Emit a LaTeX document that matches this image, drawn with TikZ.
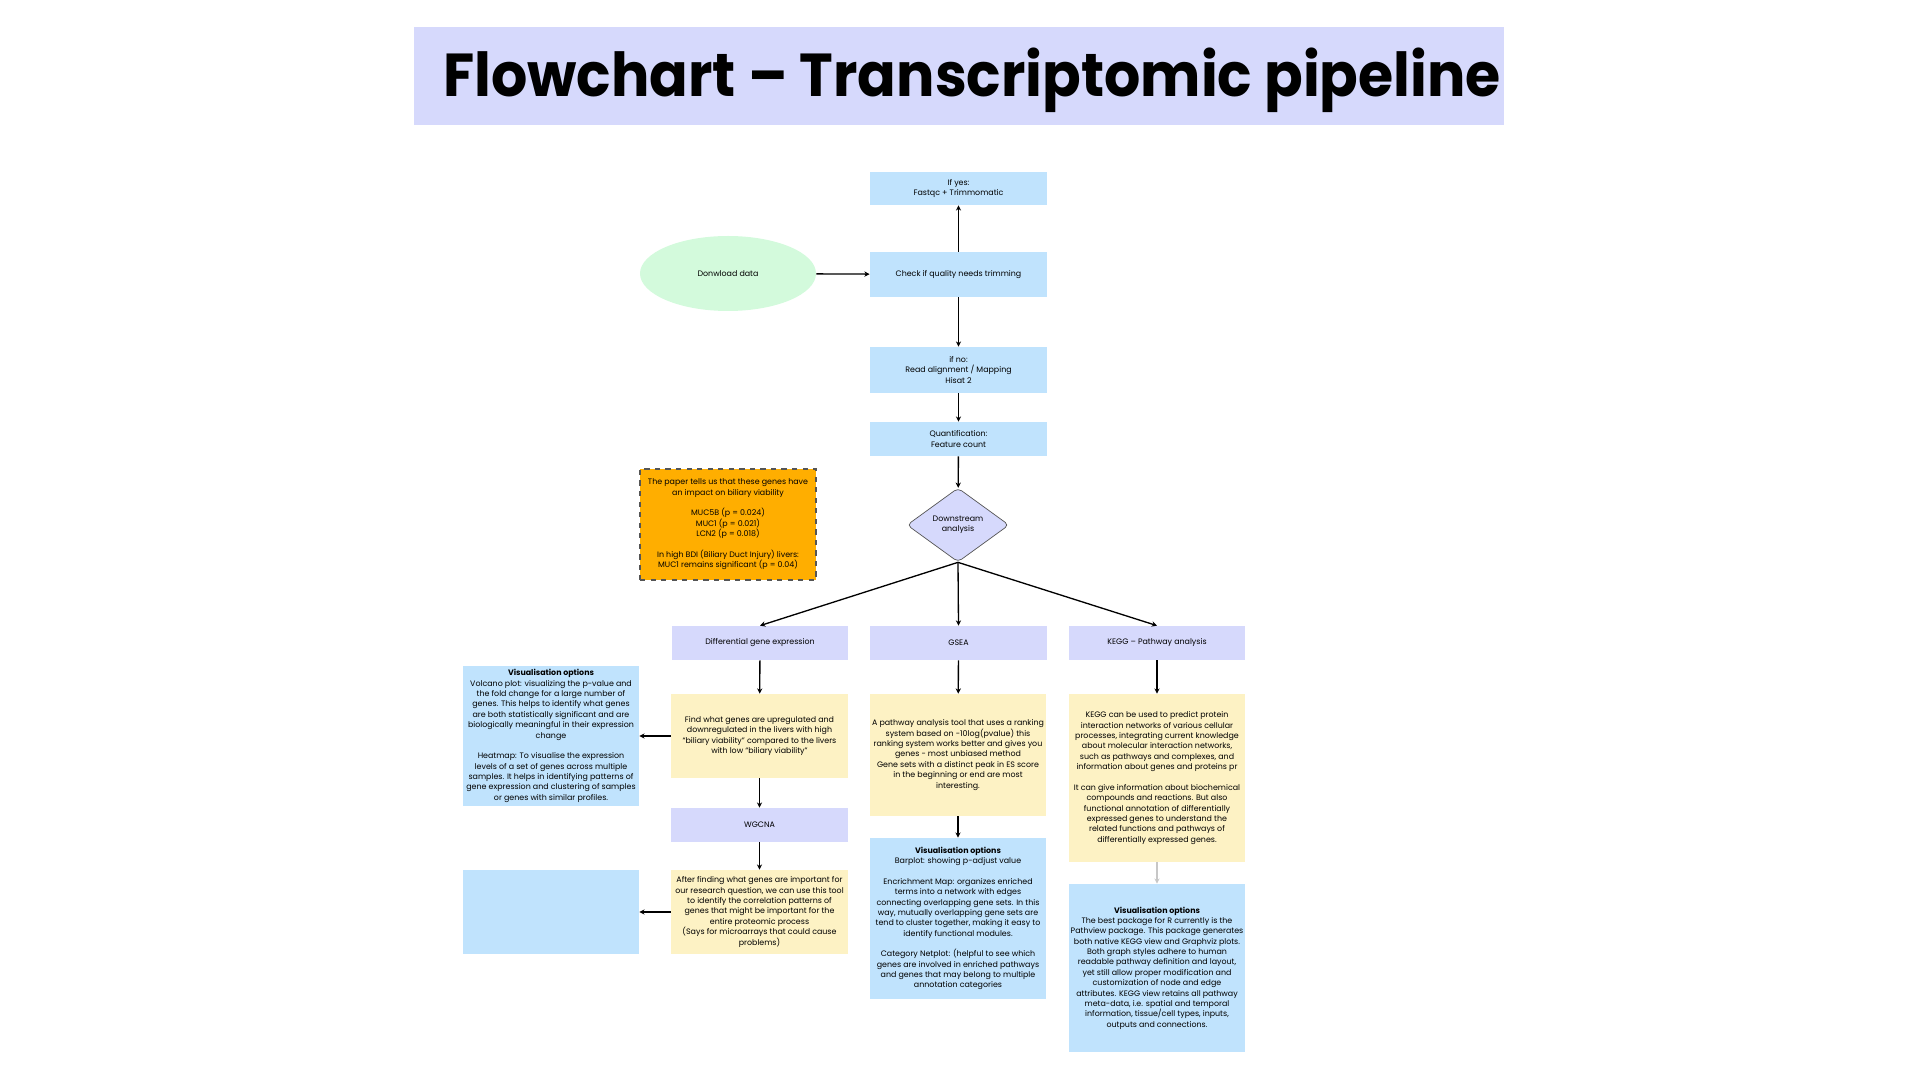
\documentclass[tikz,border=0pt]{standalone}
\usepackage{fontspec}
\setmainfont{Poppins}
\usetikzlibrary{shapes.geometric,arrows.meta}

\definecolor{lavender}{HTML}{D6D9FC}
\definecolor{skyblue}{HTML}{C0E3FD}
\definecolor{cream}{HTML}{FDF2C4}
\definecolor{mint}{HTML}{D3FADC}
\definecolor{amber}{HTML}{FFAE00}
\definecolor{edgegray}{HTML}{555555}

\newcommand{\bodyfont}{\fontsize{4.5}{5.9}\selectfont}
\newcommand{\gap}{\\[5.9pt]}

\begin{document}
\begin{tikzpicture}[x=0.2mm,y=-0.2mm,
	box/.style={rectangle, inner sep=0pt, align=center, font=\bodyfont},
	bluebox/.style={box, fill=skyblue},
	lavbox/.style={box, fill=lavender},
	notebox/.style={box, fill=cream},
	flow/.style={->, line width=0.75pt, black},
	>={Stealth[length=3pt,width=3pt]}]
	%canvas
	\useasboundingbox (0,0) rectangle (1920,1080);
	
	%title
	\node[fill=lavender, minimum width=218mm, minimum height=19.6mm, inner sep=0pt] (title) at (959,76.5) {};
	\node[anchor=base west, inner sep=0pt, font=\fontsize{34.5}{40}\selectfont\bfseries] (titletext) at (443,97) {\scalebox{0.94}[1]{Flowchart – Transcriptomic pipeline}};
	
	%preprocessing
	\node[bluebox, minimum width=35.4mm, minimum height=6.6mm] (yes) at (958.5,188.5) {If yes:\\Fastqc + Trimmomatic};
	\node[bluebox, minimum width=35.4mm, minimum height=9mm] (check) at (958.5,274.5) {Check if quality needs trimming};
	\node[ellipse, fill=mint, inner sep=0pt, minimum width=35.2mm, minimum height=15mm, font=\bodyfont] (load) at (728,273.5) {Donwload data};
	\node[bluebox, minimum width=35.4mm, minimum height=9.2mm] (align) at (958.5,370) {if no:\\Read alignment / Mapping\\Hisat 2};
	\node[bluebox, minimum width=35.4mm, minimum height=6.8mm] (quant) at (958.5,439) {Quantification:\\Feature count};
	\node[diamond, aspect=1.38, fill=lavender, draw=edgegray, line width=0.4pt, rounded corners=2.5pt, inner sep=0pt, minimum width=20.4mm, minimum height=14.8mm, align=center, font=\bodyfont] (down) at (958,525) {Downstream\\analysis};
	\node[box, fill=amber, draw=edgegray, dashed, line width=0.6pt, minimum width=35.2mm, minimum height=22.2mm] (paper) at (728,524.5) {The paper tells us that these genes have\\an impact on biliary viability\gap MUC5B (p = 0.024)\\MUC1 (p = 0.021)\\LCN2 (p = 0.018)\gap In high BDI (Biliary Duct Injury) livers:\\MUC1 remains significant (p = 0.04)};
	
	%analyses
	\node[lavbox, minimum width=35.2mm, minimum height=6.8mm] (dge) at (760,643) {Differential gene expression};
	\node[lavbox, minimum width=35.4mm, minimum height=6.8mm] (gsea) at (958.5,643) {GSEA};
	\node[lavbox, minimum width=35.2mm, minimum height=6.8mm] (kegg) at (1157,643) {KEGG – Pathway analysis};
	
	%differential expression branch
	\node[notebox, minimum width=35.4mm, minimum height=16.8mm] (dgetxt) at (759.5,736) {Find what genes are upregulated and\\downregulated in the livers with high\\“biliary viability” compared to the livers\\with low “biliary viability”};
	\node[bluebox, minimum width=35.2mm, minimum height=28mm] (dgevis) at (551,736) {\textbf{Visualisation options}\\Volcano plot: visualizing the p-value and\\the fold change for a large number of\\genes. This helps to identify what genes\\are both statistically significant and are\\biologically meaningful in their expression\\change\gap Heatmap: To visualise the expression\\levels of a set of genes across multiple\\samples. It helps in identifying patterns of\\gene expression and clustering of samples\\or genes with similar profiles.};
	\node[lavbox, minimum width=35.4mm, minimum height=6.8mm] (wgcna) at (759.5,825) {WGCNA};
	\node[notebox, minimum width=35.4mm, minimum height=16.8mm] (wgtxt) at (759.5,912) {After finding what genes are important for\\our research question, we can use this tool\\to identify the correlation patterns of\\genes that might be important for the\\entire proteomic process\\(Says for microarrays that could cause\\problems)};
	\node[bluebox, minimum width=35.2mm, minimum height=16.8mm] (wgvis) at (551,912) {};
	
	%gsea branch
	\node[notebox, minimum width=35.2mm, minimum height=24.4mm] (gseatxt) at (958,755) {A pathway analysis tool that uses a ranking\\system based on -10log(pvalue) this\\ranking system works better and gives you\\genes - most unbiased method\\Gene sets with a distinct peak in ES score\\in the beginning or end are most\\interesting.};
	\node[bluebox, minimum width=35.2mm, minimum height=32.2mm] (gseavis) at (958,918.5) {\textbf{Visualisation options}\\Barplot: showing p-adjust value\gap Encrichment Map: organizes enriched\\terms into a network with edges\\connecting overlapping gene sets. In this\\way, mutually overlapping gene sets are\\tend to cluster together, making it easy to\\identify functional modules.\gap Category Netplot: (helpful to see which\\genes are involved in enriched pathways\\and genes that may belong to multiple\\annotation categories};
	
	%kegg branch
	\node[notebox, minimum width=35.2mm, minimum height=33.6mm] (keggtxt) at (1157,778) {KEGG can be used to predict protein\\interaction networks of various cellular\\processes, integrating current knowledge\\about molecular interaction networks,\\such as pathways and complexes, and\\information about genes and proteins pr\gap It can give information about biochemical\\compounds and reactions. But also\\functional annotation of differentially\\expressed genes to understand the\\related functions and pathways of\\differentially expressed genes.};
	\node[bluebox, minimum width=35.2mm, minimum height=33.6mm] (keggvis) at (1157,968) {\textbf{Visualisation options}\\The best package for R currently is the\\Pathview package. This package generates\\both native KEGG view and Graphviz plots.\\Both graph styles adhere to human\\readable pathway definition and layout,\\yet still allow proper modification and\\customization of node and edge\\attributes. KEGG view retains all pathway\\meta-data, i.e. spatial and temporal\\information, tissue/cell types, inputs,\\outputs and connections.};
	
	%arrows
	\draw[flow] (load) -- (check);
	\draw[flow] (check) -- (yes);
	\draw[flow] (check) -- (align);
	\draw[flow] (align) -- (quant);
	\draw[flow] (quant) -- (down);
	\draw[flow] (down.south) -- (dge.north);
	\draw[flow] (down.south) -- (gsea.north);
	\draw[flow] (down.south) -- (kegg.north);
	\draw[flow] (dge) -- (dgetxt);
	\draw[flow] (dgetxt) -- (dgevis);
	\draw[flow] (dgetxt) -- (wgcna);
	\draw[flow] (wgcna) -- (wgtxt);
	\draw[flow] (wgtxt) -- (wgvis);
	\draw[flow] (gsea) -- (gseatxt);
	\draw[flow] (gseatxt) -- (gseavis);
	\draw[flow] (kegg) -- (keggtxt);
	\draw[flow, draw=black!22] (keggtxt) -- (keggvis);
\end{tikzpicture}
\end{document}
